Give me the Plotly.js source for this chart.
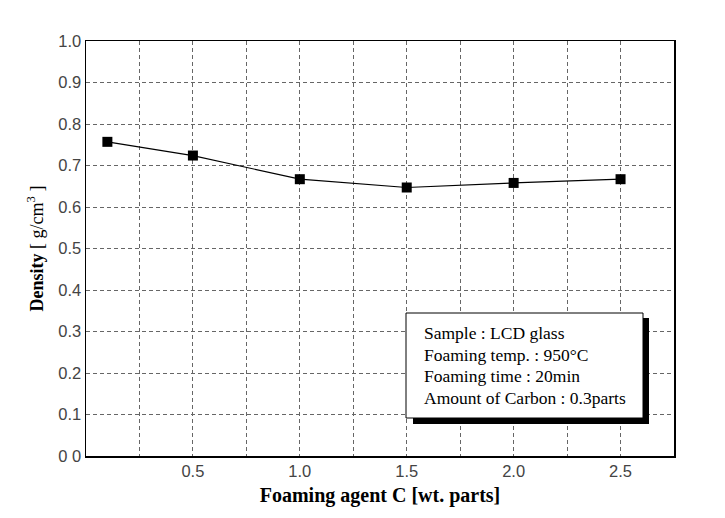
<!DOCTYPE html>
<html><head><meta charset="utf-8">
<script src="https://cdn.plot.ly/plotly-3.0.1.min.js"></script>
<style>html,body{margin:0;padding:0;background:#fff}#c{width:725px;height:518px}</style>
</head><body><div id="c"></div>
<script>
const agentC = [0.1, 0.5, 1.0, 1.5, 2.0, 2.5];
const density = [0.757, 0.724, 0.667, 0.647, 0.658, 0.667];
const xTickVals = [0.25, 0.5, 0.75, 1.0, 1.25, 1.5, 1.75, 2.0, 2.25, 2.5];
const xTickText = ["", "0.5", "", "1.0", "", "1.5", "", "2.0", "", "2.5"];
const yTickVals = [0, 0.1, 0.2, 0.3, 0.4, 0.5, 0.6, 0.7, 0.8, 0.9, 1.0];
const yTickText = ["0 0", "0.1", "0.2", "0.3", "0.4", "0.5", "0.6", "0.7", "0.8", "0.9", "1.0"];
const infoLines = ["Sample : LCD glass", "Foaming temp. : 950\u00B0C", "Foaming time : 20min", "Amount of Carbon : 0.3parts"];

const trace = {
  x: agentC, y: density, type: 'scatter', mode: 'lines+markers',
  line: {color: '#000', width: 1.2},
  marker: {symbol: 'square', size: 10, color: '#000'},
  hoverinfo: 'skip', showlegend: false
};

const tickFont = {family: 'Liberation Sans, Arial, sans-serif', size: 16.5, color: '#444'};
const serif = 'Liberation Serif, Times New Roman, serif';

const W = 725 - 86 - 51, H = 518 - 41 - 62;
function px(x) { return (x - 86) / W; }
function py(y) { return (518 - 62 - y) / H; }

const shapes = [
  {type: 'rect', xref: 'paper', yref: 'paper', x0: px(413), x1: px(649), y0: py(318), y1: py(424),
   fillcolor: '#000', line: {width: 0}, layer: 'above'},
  {type: 'rect', xref: 'paper', yref: 'paper', x0: px(406), x1: px(643), y0: py(313), y1: py(418),
   fillcolor: '#fff', line: {color: '#000', width: 1}, layer: 'above'}
];

const annotations = infoLines.map((t, i) => ({
  xref: 'paper', yref: 'paper', x: px(422), y: py(333 + i * 21.7),
  xanchor: 'left', yanchor: 'middle', text: t, showarrow: false,
  font: {family: serif, size: 17.5, color: '#000'}
}));

const layout = {
  width: 725, height: 518,
  margin: {l: 86, r: 51, t: 41, b: 62},
  paper_bgcolor: '#fff', plot_bgcolor: '#fff',
  xaxis: {
    range: [0, 2.75], tickmode: 'array', tickvals: xTickVals, ticktext: xTickText,
    showgrid: true, gridcolor: '#666', griddash: '4px,3px', gridwidth: 1,
    zeroline: false, showline: true, linecolor: '#000', linewidth: 1.5, mirror: true,
    ticks: '', tickfont: tickFont,
    title: {text: '<b>Foaming agent C [wt. parts]</b>', font: {family: serif, size: 20, color: '#000'}, standoff: 8}
  },
  yaxis: {
    range: [0, 1.0], tickmode: 'array', tickvals: yTickVals, ticktext: yTickText,
    showgrid: true, gridcolor: '#666', griddash: '4px,3px', gridwidth: 1,
    zeroline: false, showline: true, linecolor: '#000', linewidth: 1.5, mirror: true,
    ticks: '', tickfont: tickFont,
    title: {text: '<b>Density</b> [ g/cm<sup>3</sup> ]', font: {family: serif, size: 18, color: '#000'}, standoff: 10}
  },
  shapes: shapes,
  annotations: annotations
};

Plotly.newPlot('c', [trace], layout, {displayModeBar: false, staticPlot: true});
</script></body></html>
